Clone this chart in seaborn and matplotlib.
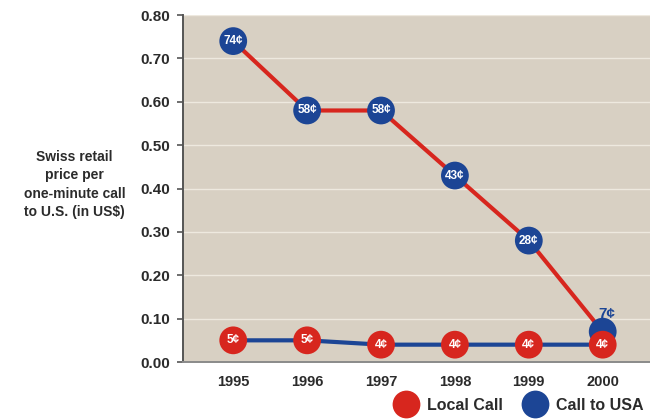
import matplotlib
matplotlib.use("Agg")
import matplotlib.pyplot as plt
from matplotlib.lines import Line2D
import seaborn as sns
import pandas as pd

years = [1995, 1996, 1997, 1998, 1999, 2000]
local_call = [0.05, 0.05, 0.04, 0.04, 0.04, 0.04]
call_to_usa = [0.74, 0.58, 0.58, 0.43, 0.28, 0.07]
local_labels = ["5¢", "5¢", "4¢", "4¢", "4¢", "4¢"]
usa_labels = ["74¢", "58¢", "58¢", "43¢", "28¢", "7¢"]
y_ticks = [0.0, 0.1, 0.2, 0.3, 0.4, 0.5, 0.6, 0.7, 0.8]

RED = "#d7261e"
BLUE = "#1c4595"
BG = "#d8d0c3"
TEXT = "#2b2b2b"

sns.set_theme(style="white")
plt.rcParams["font.family"] = ["Liberation Sans", "DejaVu Sans"]

df = pd.DataFrame({"year": years, "local": local_call, "usa": call_to_usa})

fig = plt.figure(figsize=(6.5, 4.19), dpi=100)
ax = fig.add_axes([0.2815, 0.136, 0.7185, 0.828])
ax.set_facecolor(BG)

# connecting lines: local call in blue, US call in red
sns.lineplot(data=df, x="year", y="local", ax=ax, color=BLUE, linewidth=3, zorder=2)
sns.lineplot(data=df, x="year", y="usa", ax=ax, color=RED, linewidth=3, zorder=3)

# circular markers: US call in blue, local call in red
sns.scatterplot(data=df, x="year", y="usa", ax=ax, color=BLUE, s=400,
                edgecolor="none", zorder=4)
sns.scatterplot(data=df, x="year", y="local", ax=ax, color=RED, s=400,
                edgecolor="none", zorder=5)

for x, y, lab in zip(years, call_to_usa, usa_labels):
    if x == 2000:
        ax.text(x + 0.05, y + 0.025, lab, color=BLUE, fontsize=11, fontweight="bold",
                ha="center", va="bottom", zorder=6)
    else:
        ax.text(x, y, lab, color="white", fontsize=8.5, fontweight="bold",
                ha="center", va="center", zorder=6)
for x, y, lab in zip(years, local_call, local_labels):
    ax.text(x, y, lab, color="white", fontsize=8.5, fontweight="bold",
            ha="center", va="center", zorder=7)

ax.set_xlim(1994.32, 2000.64)
ax.set_ylim(0, 0.8)
ax.set_yticks(y_ticks)
ax.set_yticklabels([f"{v:.2f}" for v in y_ticks])
ax.set_xticks(years)
ax.set_xticklabels([str(y) for y in years])
ax.grid(axis="y", color="#eee9df", linewidth=1)
ax.set_axisbelow(True)
ax.set_xlabel("")
ax.set_ylabel("")

for side in ["top", "right"]:
    ax.spines[side].set_visible(False)
ax.spines["left"].set_color("#555555")
ax.spines["left"].set_linewidth(1.4)
ax.spines["bottom"].set_color("#8a8a8a")
ax.spines["bottom"].set_linewidth(1.4)

ax.tick_params(axis="y", left=True, length=4, width=1.2, color="#555555",
               labelsize=11, labelcolor=TEXT, pad=5)
ax.tick_params(axis="x", bottom=False, labelsize=10.5, labelcolor=TEXT, pad=3)
for lab in ax.get_xticklabels() + ax.get_yticklabels():
    lab.set_fontweight("bold")

fig.text(0.115, 0.56, "Swiss retail\nprice per\none-minute call\nto U.S. (in US$)",
         ha="center", va="center", fontsize=10, fontweight="bold", color=TEXT,
         linespacing=1.4)

handles = [
    Line2D([0], [0], marker="o", linestyle="none", markersize=20,
           markerfacecolor=RED, markeredgecolor="none", label="Local Call"),
    Line2D([0], [0], marker="o", linestyle="none", markersize=20,
           markerfacecolor=BLUE, markeredgecolor="none", label="Call to USA"),
]
leg = fig.legend(handles=handles, loc="center", bbox_to_anchor=(0.8, 0.033),
                 ncol=2, frameon=False, fontsize=11.5, handletextpad=0.7,
                 columnspacing=1.4, handlelength=1.2)
for t in leg.get_texts():
    t.set_fontweight("bold")
    t.set_color(TEXT)

fig.savefig("out.png", dpi=100)
